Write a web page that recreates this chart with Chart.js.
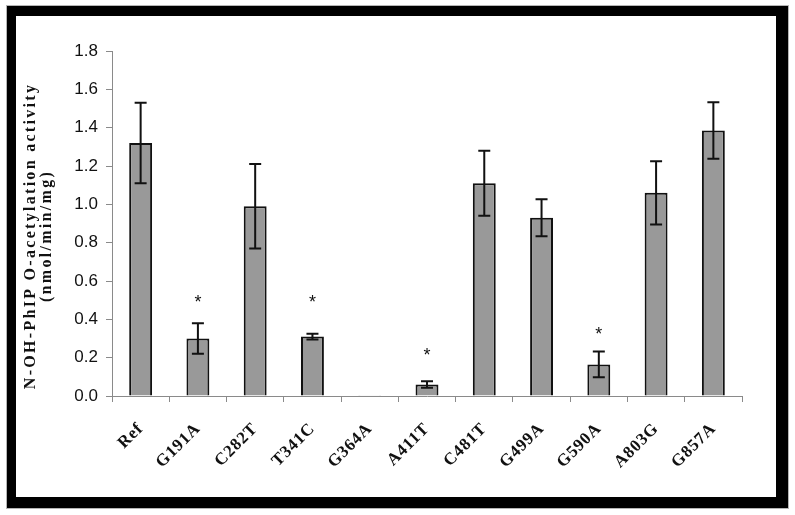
<!DOCTYPE html>
<html>
<head>
<meta charset="utf-8">
<script src="https://cdn.jsdelivr.net/npm/chart.js@4"></script>
<style>
  body { margin: 0; background: #fff; }
  #frame {
    position: absolute; left: 7px; top: 6px;
    width: 760px; height: 481px;
    border-style: solid; border-color: #000;
    border-width: 10px 12px 11px 9px;
    box-shadow: 0 0 0 1px #b5b5b5;
    background: #fff;
  }
  #chart { display: block; }
</style>
</head>
<body>
<div id="frame"><canvas id="chart" width="760" height="481"></canvas></div>
<script>
// variants and measured activity
const categories = ['Ref', 'G191A', 'C282T', 'T341C', 'G364A', 'A411T', 'C481T', 'G499A', 'G590A', 'A803G', 'G857A'];
const activity = [1.32, 0.30, 0.99, 0.31, 0.004, 0.06, 1.11, 0.93, 0.165, 1.06, 1.385];
const errors = [0.21, 0.08, 0.22, 0.015, 0, 0.017, 0.17, 0.097, 0.067, 0.165, 0.147];
// asterisk heights (null = no mark)
const starAt = [null, 0.50, null, 0.50, null, 0.225, null, null, 0.335, null, null];
const yTicks = [0, 0.2, 0.4, 0.6, 0.8, 1.0, 1.2, 1.4, 1.6, 1.8];
const yTitle = ['N-OH-PhIP O-acetylation activity', '(nmol/min/mg)'];

const axisGray = '#8a8a8a';

// error bars + asterisks, drawn through the scales
const errorBarPlugin = {
    id: 'errorBars',
    afterDatasetsDraw(chart) {
        const ctx = chart.ctx;
        const y = chart.scales.y;
        const bars = chart.getDatasetMeta(0).data;
        ctx.save();
        ctx.strokeStyle = '#111';
        ctx.lineWidth = 2;
        bars.forEach((bar, i) => {
            const e = errors[i];
            if (e) {
                const top = y.getPixelForValue(activity[i] + e);
                const bot = y.getPixelForValue(activity[i] - e);
                ctx.beginPath();
                ctx.moveTo(bar.x, top); ctx.lineTo(bar.x, bot);
                ctx.moveTo(bar.x - 6, top); ctx.lineTo(bar.x + 6, top);
                ctx.moveTo(bar.x - 6, bot); ctx.lineTo(bar.x + 6, bot);
                ctx.stroke();
            }
            if (starAt[i] !== null) {
                ctx.fillStyle = '#111';
                ctx.font = '18px "Liberation Sans", Arial, sans-serif';
                ctx.textAlign = 'center';
                ctx.textBaseline = 'middle';
                ctx.fillText('*', bar.x, y.getPixelForValue(starAt[i]) + 3);
            }
        });
        ctx.restore();
    }
};

// y title has spaced letters, so it is drawn here
const yTitlePlugin = {
    id: 'yTitle',
    afterLayout(chart) {
        // x labels are a little spaced too
        const sx = chart.scales.x;
        if (!sx._spaced) {
            const orig = sx.drawLabels;
            sx.drawLabels = function (area) {
                this.ctx.save();
                this.ctx.letterSpacing = '0.8px';
                orig.call(this, area);
                this.ctx.restore();
            };
            sx._spaced = true;
        }
    },
    afterDraw(chart) {
        const ctx = chart.ctx;
        ctx.save();
        ctx.translate(0, 220);
        ctx.rotate(-Math.PI / 2);
        ctx.font = 'bold 16px "Liberation Serif", "Times New Roman", serif';
        ctx.letterSpacing = '2.3px';
        ctx.fillStyle = '#111';
        ctx.textAlign = 'center';
        ctx.textBaseline = 'middle';
        ctx.fillText(yTitle[0], 0, 15);
        ctx.fillText(yTitle[1], 0, 31);
        ctx.restore();
    }
};

new Chart(document.getElementById('chart'), {
    type: 'bar',
    data: {
        labels: categories,
        datasets: [{
            data: activity,
            backgroundColor: '#999999',
            borderColor: '#111',
            borderWidth: 2,
            barPercentage: 0.4,
            categoryPercentage: 1.0
        }]
    },
    options: {
        responsive: false,
        animation: false,
        events: [],
        layout: { padding: { left: 0, top: 35, right: 34, bottom: 0 } },
        plugins: {
            legend: { display: false },
            tooltip: { enabled: false }
        },
        scales: {
            x: {
                afterFit(scale) { scale.height = 101; },
                grid: { drawOnChartArea: false, color: axisGray, tickLength: 6, offset: true },
                border: { color: axisGray, width: 1 },
                ticks: {
                    color: '#111',
                    maxRotation: 45, minRotation: 45,
                    padding: 17,
                    font: { family: '"Liberation Serif", "Times New Roman", serif', size: 17, weight: 'bold' }
                }
            },
            y: {
                min: 0, max: 1.8,
                afterFit(scale) { scale.width = 96; },
                afterBuildTicks(scale) { scale.ticks = yTicks.map(v => ({ value: v })); },
                grid: { drawOnChartArea: false, color: axisGray, tickLength: 6 },
                border: { color: axisGray, width: 1 },
                ticks: {
                    color: '#111',
                    padding: 8,
                    font: { family: '"Liberation Sans", Arial, sans-serif', size: 17 },
                    callback: v => v.toFixed(1)
                }
            }
        }
    },
    plugins: [errorBarPlugin, yTitlePlugin]
});
</script>
</body>
</html>
